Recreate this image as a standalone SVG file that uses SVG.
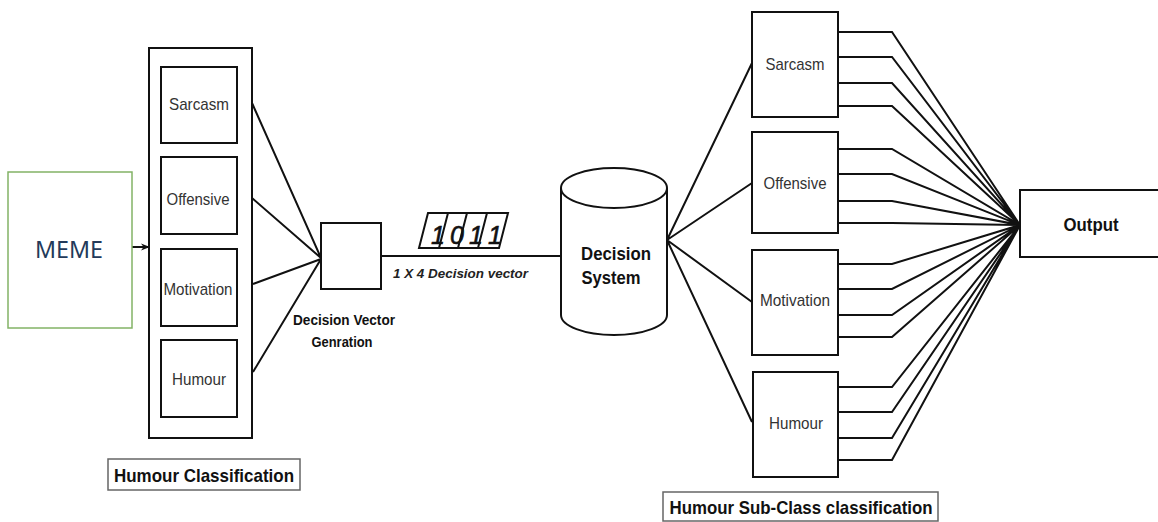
<svg xmlns="http://www.w3.org/2000/svg" width="1158" height="522" viewBox="0 0 1158 522">
<style>
.box{fill:#fff;stroke:#111;stroke-width:2}
.lbl{font-family:"Liberation Sans",Arial,sans-serif;font-size:17px;fill:#333;text-anchor:middle}
.bold{font-family:"Liberation Sans",Arial,sans-serif;font-weight:bold;fill:#111;text-anchor:middle}
.cap{fill:#fff;stroke:#666;stroke-width:1.5}
.ln{fill:none;stroke:#111;stroke-width:2}
</style>
<defs>
<marker id="arr" viewBox="0 0 10 10" refX="9" refY="5" markerWidth="9" markerHeight="9" markerUnits="userSpaceOnUse" orient="auto">
<path d="M0,1 L10,5 L0,9 L3,5 Z" fill="#111"/>
</marker>
</defs>
<rect width="1158" height="522" fill="#fff"/>

<g id="connectors">
<line class="ln" x1="132" y1="247" x2="149" y2="247" marker-end="url(#arr)"/>
<path class="ln" d="M252,103 L321,258 M252,198 L321,258 M253,284 L321,259 M253,372 L321,259"/>
<line class="ln" x1="381" y1="256" x2="561" y2="256"/>
<path class="ln" d="M667,240 L752,63 M667,240 L752,183 M667,240 L752,302 M667,240 L752,422"/>
<path class="ln" d="M838,32 H892 L1020,225 M838,57 H892 L1020,225 M838,83 H892 L1020,225 M838,106 H892 L1020,225
M838,149 H892 L1020,225 M838,174 H892 L1020,225 M838,201 H892 L1020,225 M838,223 H892 L1020,225
M838,264 H892 L1020,225 M838,289 H892 L1020,225 M838,315 H892 L1020,225 M838,337 H892 L1020,225
M838,387 H892 L1020,225 M838,412 H892 L1020,225 M838,438 H892 L1020,225 M838,460 H892 L1020,225"/>
</g>

<g id="meme">
<rect x="8" y="172" width="124" height="156" fill="#fff" stroke="#82b366" stroke-width="1.5"/>
<text x="69" y="258" font-family="'Noto Sans','Open Sans',sans-serif" font-size="23" fill="#233a5a" text-anchor="middle" textLength="68" lengthAdjust="spacingAndGlyphs">MEME</text>
</g>

<g id="humour-classification">
<rect class="box" x="149" y="48" width="103" height="390"/>
<g id="l-sarcasm"><rect class="box" x="161" y="67" width="76" height="76"/><text class="lbl" x="199" y="110" textLength="60" lengthAdjust="spacingAndGlyphs">Sarcasm</text></g>
<g id="l-offensive"><rect class="box" x="161" y="157" width="76" height="77"/><text class="lbl" x="198" y="205" textLength="63" lengthAdjust="spacingAndGlyphs">Offensive</text></g>
<g id="l-motivation"><rect class="box" x="161" y="249" width="76" height="77"/><text class="lbl" x="198" y="295" textLength="69" lengthAdjust="spacingAndGlyphs">Motivation</text></g>
<g id="l-humour"><rect class="box" x="161" y="340" width="76" height="77"/><text class="lbl" x="199" y="385" textLength="54" lengthAdjust="spacingAndGlyphs">Humour</text></g>
</g>

<g id="caption-left">
<rect class="cap" x="108" y="459" width="192" height="31"/>
<text class="bold" x="204" y="482" font-size="18.5" textLength="180" lengthAdjust="spacingAndGlyphs">Humour Classification</text>
</g>

<g id="decision-vector">
<rect class="box" x="321" y="223" width="60" height="66"/>
<text class="bold" x="344" y="325" font-size="14" fill="#222" textLength="102" lengthAdjust="spacingAndGlyphs">Decision Vector</text>
<text class="bold" x="342" y="347" font-size="14" fill="#222" textLength="61" lengthAdjust="spacingAndGlyphs">Genration</text>
</g>

<g id="vector-cells">
<path class="ln" d="M428,213 L508,213 L499,248 L419,248 Z M448,213 L439,248 M467,213 L458,248 M487,213 L478,248"/>
<g font-family="'Liberation Sans',Arial,sans-serif" font-style="italic" font-size="25" fill="#111" text-anchor="middle" stroke="#111" stroke-width="0.6">
<text x="438" y="244">1</text>
<text x="457" y="244">0</text>
<text x="476" y="244">1</text>
<text x="495" y="244">1</text>
</g>
<text x="393" y="278" font-family="'Liberation Sans',Arial,sans-serif" font-style="italic" font-weight="bold" font-size="13.5" fill="#222" textLength="135" lengthAdjust="spacingAndGlyphs">1 X 4 Decision vector</text>
</g>

<g id="decision-system">
<path d="M561,188 V315 A53,20 0 0 0 667,315 V188" fill="#fff" stroke="#111" stroke-width="2"/>
<ellipse cx="614" cy="188" rx="53" ry="20" fill="#fff" stroke="#111" stroke-width="2"/>
<text class="bold" x="616" y="260" font-size="19" fill="#222" textLength="70" lengthAdjust="spacingAndGlyphs">Decision</text>
<text class="bold" x="611" y="284" font-size="19" fill="#222" textLength="59" lengthAdjust="spacingAndGlyphs">System</text>
</g>

<g id="sub-classes">
<g id="r-sarcasm"><rect class="box" x="752" y="12" width="86" height="105"/><text class="lbl" x="795" y="70" textLength="59" lengthAdjust="spacingAndGlyphs">Sarcasm</text></g>
<g id="r-offensive"><rect class="box" x="752" y="132" width="86" height="101"/><text class="lbl" x="795" y="189" textLength="63" lengthAdjust="spacingAndGlyphs">Offensive</text></g>
<g id="r-motivation"><rect class="box" x="752" y="250" width="86" height="105"/><text class="lbl" x="795" y="306" textLength="70" lengthAdjust="spacingAndGlyphs">Motivation</text></g>
<g id="r-humour"><rect class="box" x="753" y="372" width="85" height="105"/><text class="lbl" x="796" y="429" textLength="54" lengthAdjust="spacingAndGlyphs">Humour</text></g>
</g>

<g id="caption-right">
<rect class="cap" x="663" y="492" width="275" height="29"/>
<text class="bold" x="801" y="514" font-size="18.5" textLength="263" lengthAdjust="spacingAndGlyphs">Humour Sub-Class classification</text>
</g>

<g id="output">
<rect class="box" x="1020" y="190" width="143" height="67"/>
<text class="bold" x="1091" y="231" font-size="18" fill="#222" textLength="55" lengthAdjust="spacingAndGlyphs">Output</text>
</g>
</svg>
